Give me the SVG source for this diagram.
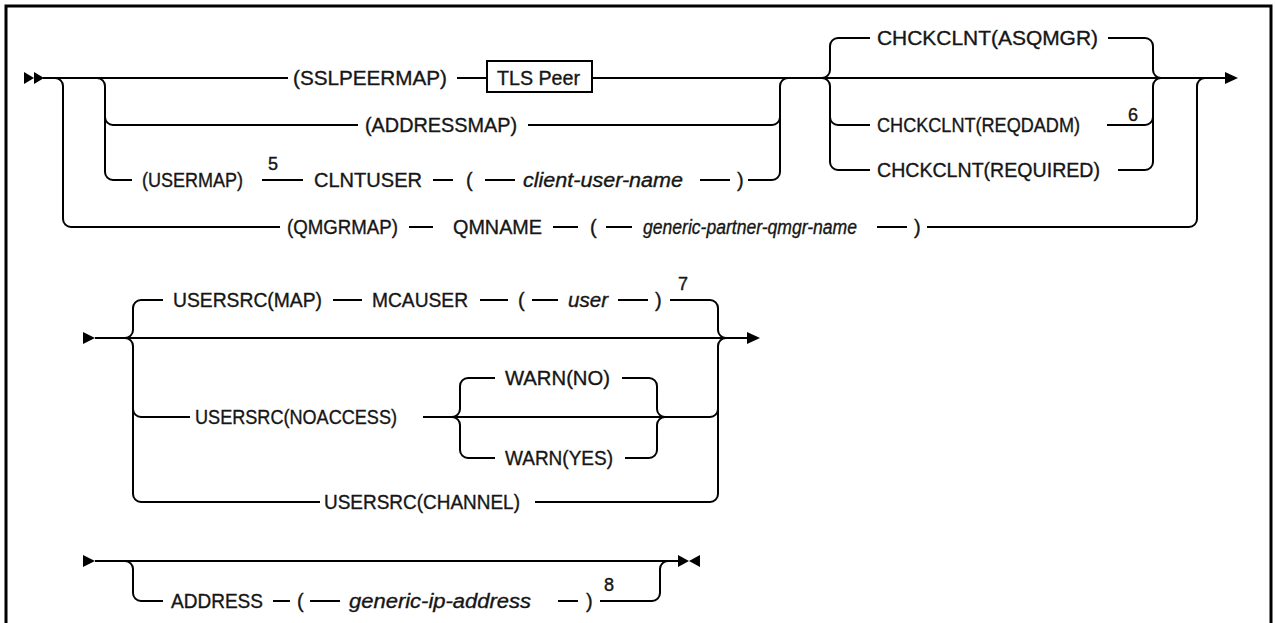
<svg xmlns="http://www.w3.org/2000/svg" width="1276" height="623" viewBox="0 0 1276 623">
<style>
.ln{stroke:#000;stroke-width:2;fill:none}
.fr{stroke:#000;stroke-width:3;fill:none}
.ah{fill:#000;stroke:none}
.t{font-family:"Liberation Sans",Arial,sans-serif;font-size:20px;fill:#161616;stroke:#161616;stroke-width:0.35}
.i{font-style:italic}
.n{font-family:"Liberation Sans",Arial,sans-serif;font-size:18px;fill:#161616;stroke:#161616;stroke-width:0.4}
.bx{stroke:#000;stroke-width:2;fill:#fff}
</style>
<rect class="fr" x="6" y="6" width="1265" height="660"/>
<g id="connectors">
<path class="ln" d="M43,78 H288 M457,78 H487 M592,78 H1226"/>
<path class="ln" d="M55,78 A8,8 0 0 1 63,86 V219 A8,8 0 0 0 71,227 H280 M409,227 H433 M553,227 H578 M606,227 H632 M877,227 H907 M927,227 H1189 A8,8 0 0 0 1197,219 V86 A8,8 0 0 1 1205,78"/>
<path class="ln" d="M97,78 A8,8 0 0 1 105,86 V172 A8,8 0 0 0 113,180 H132 M105,117 A8,8 0 0 0 113,125 H358"/>
<path class="ln" d="M528,125 H772 A8,8 0 0 0 780,117"/>
<path class="ln" d="M262,180 H303 M433,180 H453 M485,180 H515 M700,180 H730 M748,180 H772 A8,8 0 0 0 780,172 V86 A8,8 0 0 1 788,78"/>
<path class="ln" d="M822,78 A8,8 0 0 0 830,70 V46 A8,8 0 0 1 838,38 H870 M1108,38 H1145 A8,8 0 0 1 1153,46 V70 A8,8 0 0 0 1161,78"/>
<path class="ln" d="M822,78 A8,8 0 0 1 830,86 V162 A8,8 0 0 0 838,170 H870 M830,117 A8,8 0 0 0 838,125 H870"/>
<path class="ln" d="M1107,125 H1145 A8,8 0 0 0 1153,117 M1118,170 H1145 A8,8 0 0 0 1153,162 V86 A8,8 0 0 1 1161,78"/>
<polygon class="ah" points="24,72 34,78 24,84"/>
<polygon class="ah" points="34,72 44,78 34,84"/>
<polygon class="ah" points="1225,72 1238,78 1225,84"/>
<polygon class="ah" points="83,332 95,338 83,344"/>
<path class="ln" d="M95,338 H748"/>
<polygon class="ah" points="747,332 760,338 747,344"/>
<path class="ln" d="M125,338 A8,8 0 0 0 133,330 V308 A8,8 0 0 1 141,300 H163 M333,300 H362 M480,300 H508 M532,300 H558 M618,300 H648 M670,300 H710 A8,8 0 0 1 718,308 V330 A8,8 0 0 0 726,338"/>
<path class="ln" d="M125,338 A8,8 0 0 1 133,346 V494 A8,8 0 0 0 141,502 H320 M133,409 A8,8 0 0 0 141,417 H190"/>
<path class="ln" d="M423,417 H710 A8,8 0 0 0 718,409 M535,502 H710 A8,8 0 0 0 718,494 V346 A8,8 0 0 1 726,338"/>
<path class="ln" d="M452,417 A8,8 0 0 0 460,409 V386 A8,8 0 0 1 468,378 H495 M622,378 H649 A8,8 0 0 1 657,386 V409 A8,8 0 0 0 665,417"/>
<path class="ln" d="M452,417 A8,8 0 0 1 460,425 V450 A8,8 0 0 0 468,458 H495 M625,458 H649 A8,8 0 0 0 657,450 V425 A8,8 0 0 1 665,417"/>
<polygon class="ah" points="83,555 95,561 83,567"/>
<path class="ln" d="M95,561 H680"/>
<polygon class="ah" points="678,555 689,561 678,567"/>
<polygon class="ah" points="700,555 689,561 700,567"/>
<path class="ln" d="M125,561 A8,8 0 0 1 133,569 V593 A8,8 0 0 0 141,601 H163 M273,601 H290 M310,601 H340 M558,601 H578 M600,601 H652 A8,8 0 0 0 660,593 V569 A8,8 0 0 1 668,561"/>
</g>
<g id="n-sslpeermap"><text class="t" x="293" y="85" textLength="154" lengthAdjust="spacingAndGlyphs">(SSLPEERMAP)</text></g>
<g id="n-tlspeer"><rect class="bx" x="487" y="61" width="105" height="31"/><text class="t" x="497" y="85" textLength="83" lengthAdjust="spacingAndGlyphs">TLS Peer</text></g>
<g id="n-addressmap"><text class="t" x="365" y="132" textLength="152" lengthAdjust="spacingAndGlyphs">(ADDRESSMAP)</text></g>
<g id="n-usermap"><text class="t" x="142" y="187" textLength="101" lengthAdjust="spacingAndGlyphs">(USERMAP)</text><text class="n" x="268" y="170">5</text></g>
<g id="n-clntuser"><text class="t" x="314" y="187" textLength="108" lengthAdjust="spacingAndGlyphs">CLNTUSER</text><text class="t" x="466" y="187">(</text><text class="t i" x="523" y="187" textLength="160" lengthAdjust="spacingAndGlyphs">client-user-name</text><text class="t" x="737" y="187">)</text></g>
<g id="n-qmgrmap"><text class="t" x="287" y="234" textLength="111" lengthAdjust="spacingAndGlyphs">(QMGRMAP)</text></g>
<g id="n-qmname"><text class="t" x="453" y="234" textLength="89" lengthAdjust="spacingAndGlyphs">QMNAME</text><text class="t" x="590" y="234">(</text><text class="t i" x="643" y="234" textLength="214" lengthAdjust="spacingAndGlyphs">generic-partner-qmgr-name</text><text class="t" x="914" y="234">)</text></g>
<g id="n-asqmgr"><text class="t" x="877" y="45" textLength="221" lengthAdjust="spacingAndGlyphs">CHCKCLNT(ASQMGR)</text></g>
<g id="n-reqdadm"><text class="t" x="877" y="132" textLength="203" lengthAdjust="spacingAndGlyphs">CHCKCLNT(REQDADM)</text><text class="n" x="1128" y="121">6</text></g>
<g id="n-required"><text class="t" x="877" y="177" textLength="223" lengthAdjust="spacingAndGlyphs">CHCKCLNT(REQUIRED)</text></g>
<g id="n-usersrcmap"><text class="t" x="173" y="307" textLength="149" lengthAdjust="spacingAndGlyphs">USERSRC(MAP)</text></g>
<g id="n-mcauser"><text class="t" x="372" y="307" textLength="96" lengthAdjust="spacingAndGlyphs">MCAUSER</text><text class="t" x="518" y="307">(</text><text class="t i" x="568" y="307" textLength="40" lengthAdjust="spacingAndGlyphs">user</text><text class="t" x="655" y="307">)</text><text class="n" x="678" y="290">7</text></g>
<g id="n-noaccess"><text class="t" x="195" y="424" textLength="202" lengthAdjust="spacingAndGlyphs">USERSRC(NOACCESS)</text></g>
<g id="n-warnno"><text class="t" x="505" y="385" textLength="105" lengthAdjust="spacingAndGlyphs">WARN(NO)</text></g>
<g id="n-warnyes"><text class="t" x="505" y="465" textLength="108" lengthAdjust="spacingAndGlyphs">WARN(YES)</text></g>
<g id="n-channel"><text class="t" x="324" y="509" textLength="196" lengthAdjust="spacingAndGlyphs">USERSRC(CHANNEL)</text></g>
<g id="n-address"><text class="t" x="171" y="608" textLength="92" lengthAdjust="spacingAndGlyphs">ADDRESS</text><text class="t" x="297" y="608">(</text><text class="t i" x="349" y="608" textLength="182" lengthAdjust="spacingAndGlyphs">generic-ip-address</text><text class="t" x="586" y="608">)</text><text class="n" x="604" y="591">8</text></g>
</svg>
